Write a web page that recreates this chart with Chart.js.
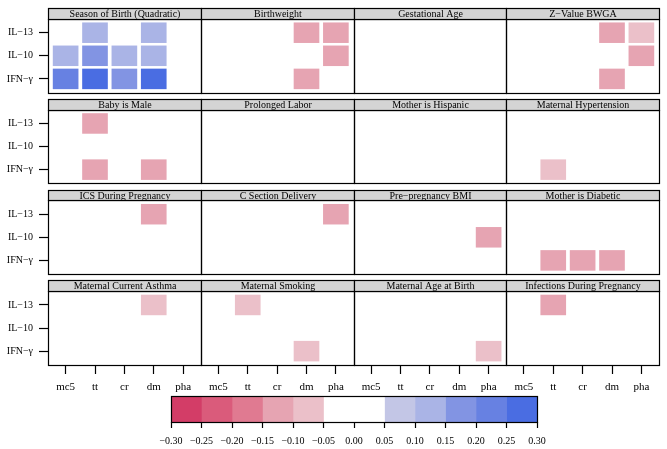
<!DOCTYPE html>
<html>
<head>
<meta charset="utf-8">
<script src="https://cdn.jsdelivr.net/npm/chart.js@4.4.1/dist/chart.umd.min.js"></script>
<style>
html,body{margin:0;padding:0;background:#fff;}
#wrap{position:relative;width:667px;height:449px;overflow:hidden;}
#main{position:absolute;left:0;top:0;}
#cbar{position:absolute;left:0;top:386px;}
</style>
</head>
<body>
<div id="wrap">
<canvas id="main" width="667" height="395"></canvas>
<canvas id="cbar" width="667" height="63"></canvas>
</div>
<script>
// ---------------- data ----------------
const columns = ['mc5', 'tt', 'cr', 'dm', 'pha'];
const cytokines = ['IL\u221213', 'IL\u221210', 'IFN\u2212\u03b3'];
const panelTitles = [
  'Season of Birth (Quadratic)', 'Birthweight', 'Gestational Age', 'Z\u2212Value BWGA',
  'Baby is Male', 'Prolonged Labor', 'Mother is Hispanic', 'Maternal Hypertension',
  'ICS During Pregnancy', 'C Section Delivery', 'Pre\u2212pregnancy BMI', 'Mother is Diabetic',
  'Maternal Current Asthma', 'Maternal Smoking', 'Maternal Age at Birth', 'Infections During Pregnancy'
];
// rows: IL-13, IL-10, IFN-γ ; columns: mc5, tt, cr, dm, pha
const seasonOfBirth = [[null, 0.12, null, 0.12, null], [0.12, 0.17, 0.12, 0.12, null], [0.22, 0.27, 0.17, 0.27, null]];
const birthweight = [[null, null, null, -0.12, -0.12], [null, null, null, null, -0.12], [null, null, null, -0.12, null]];
const gestationalAge = [[null, null, null, null, null], [null, null, null, null, null], [null, null, null, null, null]];
const zValueBWGA = [[null, null, null, -0.12, -0.07], [null, null, null, null, -0.12], [null, null, null, -0.12, null]];
const babyIsMale = [[null, -0.12, null, null, null], [null, null, null, null, null], [null, -0.12, null, -0.12, null]];
const prolongedLabor = [[null, null, null, null, null], [null, null, null, null, null], [null, null, null, null, null]];
const motherIsHispanic = [[null, null, null, null, null], [null, null, null, null, null], [null, null, null, null, null]];
const maternalHypertension = [[null, null, null, null, null], [null, null, null, null, null], [null, -0.07, null, null, null]];
const icsDuringPregnancy = [[null, null, null, -0.12, null], [null, null, null, null, null], [null, null, null, null, null]];
const cSectionDelivery = [[null, null, null, null, -0.12], [null, null, null, null, null], [null, null, null, null, null]];
const prePregnancyBMI = [[null, null, null, null, null], [null, null, null, null, -0.12], [null, null, null, null, null]];
const motherIsDiabetic = [[null, null, null, null, null], [null, null, null, null, null], [null, -0.12, -0.12, -0.12, null]];
const maternalCurrentAsthma = [[null, null, null, -0.07, null], [null, null, null, null, null], [null, null, null, null, null]];
const maternalSmoking = [[null, -0.07, null, null, null], [null, null, null, null, null], [null, null, null, -0.07, null]];
const maternalAgeAtBirth = [[null, null, null, null, null], [null, null, null, null, null], [null, null, null, null, -0.07]];
const infectionsDuringPregnancy = [[null, -0.12, null, null, null], [null, null, null, null, null], [null, null, null, null, null]];

const panelValues = [
  seasonOfBirth, birthweight, gestationalAge, zValueBWGA,
  babyIsMale, prolongedLabor, motherIsHispanic, maternalHypertension,
  icsDuringPregnancy, cSectionDelivery, prePregnancyBMI, motherIsDiabetic,
  maternalCurrentAsthma, maternalSmoking, maternalAgeAtBirth, infectionsDuringPregnancy
];

const breaks = [-0.30, -0.25, -0.20, -0.15, -0.10, -0.05, 0.00, 0.05, 0.10, 0.15, 0.20, 0.25, 0.30];
const binColors = ['#d33d67', '#da5b7b', '#e07a91', '#e6a4b2', '#ebc0c9', '#ffffff',
                   '#ffffff', '#c3c6e6', '#aab4e6', '#8294e3', '#6781e2', '#4a6de2'];

// ---------------- layout in axis units ----------------
const NCOL = 4, NROW = 4;
const PANEL_W = 5.2;        // x units per panel (5 columns + 0.6 margin each side)
const BODY_H = 3.2;         // y units per panel body (3 rows + 0.6 margin each side)
const STRIP_H = 0.47;
const ROW_PITCH = 3.93;
const XMAX = NCOL * PANEL_W;
const YMAX = (NROW - 1) * ROW_PITCH + BODY_H + STRIP_H;
const HALF_H = 0.43;

function bodyBottom(r) { return (NROW - 1 - r) * ROW_PITCH; }
function colCenter(p, j) { return p * PANEL_W + 0.6 + j; }
function rowCenter(r, k) { return bodyBottom(r) + 0.6 + (2 - k); }
function colorFor(v) {
  for (let i = 0; i < binColors.length; i++) {
    if (v >= breaks[i] && v < breaks[i + 1]) return binColors[i];
  }
  return v < breaks[0] ? binColors[0] : binColors[binColors.length - 1];
}

const cellData = [];
const cellColors = [];
panelValues.forEach((mat, idx) => {
  const pr = Math.floor(idx / NCOL), pc = idx % NCOL;
  mat.forEach((row, k) => {
    row.forEach((v, j) => {
      if (v === null) return;
      const yc = rowCenter(pr, k);
      cellData.push({ x: colCenter(pc, j), y: [yc - HALF_H, yc + HALF_H], v: v });
      cellColors.push(colorFor(v));
    });
  });
});

const xTickValues = [];
for (let p = 0; p < NCOL; p++) for (let j = 0; j < columns.length; j++) xTickValues.push(colCenter(p, j));
const yTickValues = [];
for (let r = 0; r < NROW; r++) for (let k = 0; k < cytokines.length; k++) yTickValues.push(rowCenter(r, k));

const FONT = 'Liberation Serif';

const panelPlugin = {
  id: 'panels',
  afterDatasetsDraw(chart) {
    const ctx = chart.ctx, xs = chart.scales.x, ys = chart.scales.y;
    ctx.save();
    for (let idx = 0; idx < panelTitles.length; idx++) {
      const pr = Math.floor(idx / NCOL), pc = idx % NCOL;
      const x0 = Math.round(xs.getPixelForValue(pc * PANEL_W)) + 0.5;
      const x1 = Math.round(xs.getPixelForValue((pc + 1) * PANEL_W)) + 0.5;
      const yb = Math.round(ys.getPixelForValue(bodyBottom(pr))) + 0.5;
      const yt = Math.round(ys.getPixelForValue(bodyBottom(pr) + BODY_H)) + 0.5;
      const ys0 = Math.round(ys.getPixelForValue(bodyBottom(pr) + BODY_H + STRIP_H)) + 0.5;
      ctx.lineWidth = 1.2;
      ctx.strokeStyle = '#000';
      ctx.strokeRect(x0, yt, x1 - x0, yb - yt);
      ctx.fillStyle = '#d4d4d4';
      ctx.fillRect(x0, ys0, x1 - x0, yt - ys0);
      ctx.strokeRect(x0, ys0, x1 - x0, yt - ys0);
      ctx.fillStyle = '#000';
      ctx.font = '10px "' + FONT + '"';
      ctx.textAlign = 'center';
      ctx.textBaseline = 'middle';
      ctx.fillText(panelTitles[idx], (x0 + x1) / 2, (ys0 + yt) / 2 + 0.5);
    }
    ctx.restore();
  }
};

function noPad(s) { s.paddingLeft = 0; s.paddingRight = 0; s.paddingTop = 0; s.paddingBottom = 0; }

new Chart(document.getElementById('main'), {
  type: 'bar',
  data: {
    datasets: [{
      data: cellData,
      backgroundColor: cellColors,
      borderWidth: 0,
      barThickness: 25
    }]
  },
  options: {
    responsive: false,
    animation: false,
    events: [],
    layout: { padding: { left: 0, right: 8, top: 8, bottom: 0 } },
    plugins: { legend: { display: false }, tooltip: { enabled: false } },
    scales: {
      x: {
        type: 'linear', min: 0, max: XMAX, offset: false,
        afterBuildTicks: s => { s.ticks = xTickValues.map(v => ({ value: v })); },
        afterFit: s => { s.height = 30; noPad(s); },
        border: { display: false },
        grid: { offset: false, drawOnChartArea: false, drawTicks: true, tickLength: 9, color: '#000', tickColor: '#000', tickWidth: 1.2 },
        ticks: {
          autoSkip: false, maxRotation: 0, padding: 7, color: '#000',
          font: { family: FONT, size: 11 },
          callback: (v, i) => columns[i % columns.length]
        }
      },
      y: {
        type: 'linear', min: 0, max: YMAX, offset: false,
        afterBuildTicks: s => { s.ticks = yTickValues.map(v => ({ value: v })); },
        afterFit: s => { s.width = 48; noPad(s); },
        border: { display: false },
        grid: { drawOnChartArea: false, drawTicks: true, tickLength: 9, color: '#000', tickColor: '#000', tickWidth: 1.2 },
        ticks: {
          autoSkip: false, padding: 6, color: '#000',
          font: { family: FONT, size: 10 },
          callback: (v, i) => cytokines[i % cytokines.length]
        }
      }
    }
  },
  plugins: [panelPlugin]
});

// ---------------- colour key ----------------
const keyDatasets = binColors.map((c, i) => ({
  data: [[breaks[i], breaks[i + 1]]],
  backgroundColor: c,
  borderWidth: 0,
  grouped: false,
  categoryPercentage: 1,
  barPercentage: 1
}));

const borderPlugin = {
  id: 'keyBorder',
  afterDatasetsDraw(chart) {
    const a = chart.chartArea, ctx = chart.ctx;
    ctx.save();
    ctx.lineWidth = 1.2;
    ctx.strokeStyle = '#000';
    ctx.strokeRect(Math.round(a.left) + 0.5, Math.round(a.top) + 0.5,
                   Math.round(a.right - a.left), Math.round(a.bottom - a.top));
    ctx.restore();
  }
};

new Chart(document.getElementById('cbar'), {
  type: 'bar',
  data: { labels: [''], datasets: keyDatasets },
  options: {
    indexAxis: 'y',
    responsive: false,
    animation: false,
    events: [],
    layout: { padding: { left: 171, right: 130, top: 10, bottom: 0 } },
    plugins: { legend: { display: false }, tooltip: { enabled: false } },
    scales: {
      y: { display: false },
      x: {
        type: 'linear', min: breaks[0], max: breaks[breaks.length - 1], offset: false,
        afterBuildTicks: s => { s.ticks = breaks.map(v => ({ value: v })); },
        afterFit: s => { s.height = 27; noPad(s); },
        border: { display: false },
        grid: { offset: false, drawOnChartArea: false, tickLength: 6, color: '#000', tickColor: '#000', tickWidth: 1.2 },
        ticks: {
          autoSkip: false, maxRotation: 0, padding: 7, color: '#000',
          font: { family: FONT, size: 10 },
          callback: v => (v < -1e-9 ? '\u2212' : '') + Math.abs(v).toFixed(2)
        }
      }
    }
  },
  plugins: [borderPlugin]
});
</script>
</body>
</html>
